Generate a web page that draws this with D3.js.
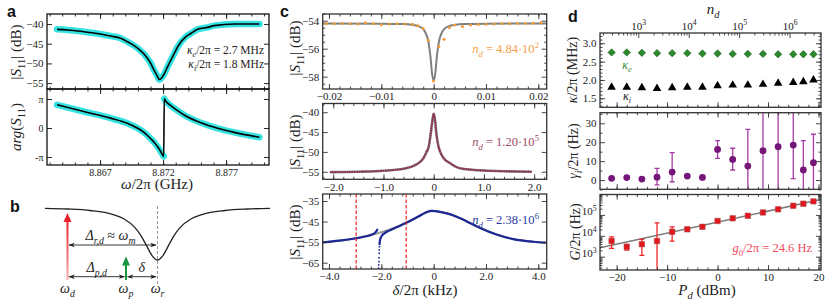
<!DOCTYPE html>
<html>
<head>
<meta charset="utf-8">
<script src="https://cdn.jsdelivr.net/npm/d3@7/dist/d3.min.js"></script>
<style>
  body { margin: 0; background: #fff; }
  svg text { font-family: "Liberation Serif", "DejaVu Serif", serif; fill: #222; }
  svg text.panel { font-family: "Liberation Sans", Arial, sans-serif; font-weight: bold; fill: #111; }
</style>
</head>
<body>
<script>
// ---------- panel a : reflection of the cavity ----------
const aMag = [[8.86359,-41.35],[8.8644,-41.5],[8.86571,-41.95],[8.86678,-42.4],[8.86784,-43.05],[8.86863,-43.6],
  [8.86917,-44.5],[8.8697,-45.5],[8.87022,-46.8],[8.87062,-48.1],[8.87102,-50.0],[8.87128,-51.7],[8.8715,-52.98],
  [8.87171,-54.1],[8.87208,-52.7],[8.87235,-50.9],[8.87261,-49.2],[8.87288,-47.5],[8.87315,-45.8],[8.87381,-43.2],
  [8.8742,-42.4],[8.87474,-41.35],[8.87553,-40.85],[8.87606,-40.4],[8.87765,-40.0],[8.87964,-40.0]];
// phase in units of pi, split at the wrap
const aPhaseLow = [[8.86359,0.80],[8.86571,0.57],[8.86784,0.34],[8.86917,0.16],[8.87022,-0.07],[8.87062,-0.2],
  [8.87102,-0.37],[8.8713,-0.5],[8.87155,-0.64],[8.8718,-0.8],[8.87205,-0.98]];
const aPhaseHigh = [[8.87209,1.01],[8.87222,0.92],[8.87261,0.77],[8.87315,0.6],[8.87367,0.45],[8.875,0.18],
  [8.87633,-0.01],[8.87765,-0.15],[8.87964,-0.32]];
const aFreqTicks = [8.867, 8.872, 8.877];
const aMagTicks = [-40, -45, -50, -55];
const aPhaseTicks = [-1, 0, 1];

// ---------- panel b : schematic ----------
const bCurve = [[0,0.025],[1,0.038],[2,0.066],[3,0.138],[3.5,0.221],[4,0.39],[4.25,0.532],[4.5,0.719],[4.75,0.911],
  [5,1],[5.25,0.911],[5.5,0.719],[5.75,0.532],[6,0.39],[6.5,0.221],[7,0.138],[8,0.066],[9,0.038],[10,0.025]];
const bTones = [{name: 'd', f: 1, amp: 1}, {name: 'p', f: 3.6, amp: 0.35}];
const bRes = 5;

// ---------- panel c : three drive powers ----------
const cTopDots = [[-0.0205,-54.22],[-0.019,-54.22],[-0.0175,-54.2],[-0.016,-54.22],[-0.0145,-54.24],[-0.013,-54.15],
  [-0.0115,-54.22],[-0.010,-54.28],[-0.0085,-54.24],[-0.007,-54.22],[-0.0055,-54.24],[-0.004,-54.25],[-0.003,-54.36],
  [-0.002,-54.55],[-0.001,-55.39],[0,-58.3],[0.001,-55.84],[0.002,-55.32],[0.003,-54.48],[0.004,-54.31],[0.0055,-54.41],
  [0.007,-54.3],[0.0085,-54.27],[0.010,-54.25],[0.0115,-54.24],[0.013,-54.22],[0.0145,-54.22],[0.016,-54.2],
  [0.0175,-54.2],[0.019,-54.18],[0.0205,-54.15]];
const cTopFit = [[-0.0212,-54.2],[-0.01,-54.21],[-0.006,-54.24],[-0.004,-54.3],[-0.003,-54.38],[-0.002,-54.6],
  [-0.0015,-54.9],[-0.001,-55.5],[-0.0006,-56.6],[-0.0003,-57.8],[0,-58.3],[0.0003,-57.8],[0.0006,-56.6],[0.001,-55.5],
  [0.0015,-54.9],[0.002,-54.6],[0.003,-54.38],[0.004,-54.3],[0.006,-54.24],[0.01,-54.21],[0.0216,-54.2]];
const cMidTrace = [[-2.05,-55.1],[-1.5,-55.0],[-1.0,-54.75],[-0.55,-54.1],[-0.4,-53.5],[-0.3,-52.8],[-0.2,-51.5],
  [-0.15,-50.2],[-0.1,-48.7],[-0.06,-45.5],[-0.03,-42.5],[0,-40.4],[0.03,-42.3],[0.05,-45],[0.09,-48.3],[0.13,-50],
  [0.2,-51.6],[0.32,-52.8],[0.52,-54.1],[1.0,-54.7],[1.5,-54.9],[1.95,-55.0]];
const cBotLeft = [[-4.24,-55.1],[-3.6,-54.3],[-2.96,-53.1],[-2.71,-52.5],[-2.33,-51.2],[-2.2,-49.9],[-2.14,-48.6]];
const cBotRight = [[-2.07,-56.4],[-2.05,-54.0],[-1.98,-51.9],[-1.88,-50.7],[-1.69,-49.4],[-1.37,-47.5],[-1.05,-45.6],
  [-0.8,-44.0],[-0.55,-42.3],[-0.35,-40.9],[-0.2,-40.1],[-0.08,-39.8],[0.05,-39.9],[0.25,-40.3],[0.5,-41.0],
  [0.74,-41.9],[1.0,-43.3],[1.25,-44.8],[1.76,-48.0],[2.4,-51.3],[3.04,-53.5],[3.8,-54.8],[4.32,-55.3]];
const cBotTail = [[-2.07,-57.2],[-2.08,-58.8],[-2.08,-60.4],[-2.09,-62.6],[-2.09,-64.5],[-2.1,-66.1],[-2.1,-67.7]];
const cBotFit = [[-4.24,-55.1],[-3.6,-54.3],[-2.96,-53.1],[-2.5,-51.8],[-2.0,-50.2],[-1.5,-48.0],[-1.05,-45.6],
  [-0.8,-44.0],[-0.55,-42.3],[-0.35,-40.9],[-0.2,-40.1],[-0.08,-39.8],[0.05,-39.9],[0.25,-40.3],[0.5,-41.0],
  [0.74,-41.9],[1.0,-43.3],[1.25,-44.8],[1.76,-48.0],[2.4,-51.3],[3.04,-53.5],[3.8,-54.8],[4.32,-55.3]];
const cBotMarks = [-2.96, -1.05];
const cPhotons = [['4.84', '2'], ['1.20', '5'], ['2.38', '6']];

// ---------- panel d : vs drive power ----------
const pd = [-21, -18, -15, -12, -9, -6, -3, 0, 3, 6, 9, 12, 15, 17, 19];
const kappaE = [2.75, 2.75, 2.74, 2.73, 2.73, 2.73, 2.72, 2.72, 2.71, 2.71, 2.71, 2.70, 2.70, 2.70, 2.70];
const kappaI = [1.80, 1.80, 1.79, 1.77, 1.79, 1.80, 1.80, 1.84, 1.86, 1.86, 1.88, 1.91, 1.93, 1.95, 2.00];
const gammaI = [0.9, 1.3, 0.5, 1.5, 4.2, 2.1, 1.4, 16.2, 10.9, 7.4, 15.5, 17.6, 18.5, 5.3, 9.2];
const gammaLo = [null, null, null, -2.6, -0.9, null, null, 11.5, 5.3, -8, -10, -10, 0.7, -8, -8];
const gammaHi = [null, null, null, 6.2, 14.5, null, null, 20.8, 16.8, 26.8, 40, 45, 40, 20.8, 24.2];
const gCoup = [5.6e3, 2.95e3, 3.98e3, 5.6e3, 1.55e4, 2.04e4, 2.69e4, 5.13e4, 6.9e4, 9.1e4, 1.32e5, 1.86e5, 2.75e5, 3.47e5, 4.47e5];
const gLo = [2.5e3, 2.04e3, 1.15e3, 1e2, 5.6e3, null, null, null, null, null, null, null, null, null, null];
const gHi = [8.9e3, 3.9e3, 6.8e3, 4.2e4, 2.7e4, null, null, null, null, null, null, null, null, null, null];
const gFit = [[-23.3, 2.69e3], [20.5, 5.5e5]];
const pdTicks = [-20, -10, 0, 10, 20];
const ndTicks = [1e3, 1e4, 1e5, 1e6];

// ---------- helpers ----------
const svg = d3.select('body').append('svg').attr('width', 830).attr('height', 303);
const defs = svg.append('defs');
let clipN = 0;

let rich = (t, parts, fs) => {
  let off = 0;
  parts.forEach(([s, st]) => {
    const sp = t.append('tspan').text(s);
    let sh = 0;
    if (st.indexOf('b') >= 0) { sh = 0.28 * fs; sp.style('font-size', (0.7 * fs) + 'px'); }
    if (st.indexOf('p') >= 0) { sh = -0.42 * fs; sp.style('font-size', (0.7 * fs) + 'px'); }
    if (st.indexOf('i') >= 0) sp.style('font-style', 'italic');
    sp.attr('dy', sh - off);
    off = sh;
  });
  return t;
};

let label = (x, y, parts, o = {}) => {
  const fs = o.size || 14;
  const t = svg.append('text')
    .attr('transform', `translate(${x},${y})` + (o.rot ? ' rotate(-90)' : ''))
    .attr('text-anchor', o.anchor || 'middle')
    .style('font-size', fs + 'px');
  if (o.color) t.style('fill', o.color);
  return rich(t, parts, fs);
};

let plain = (f) => (t, d) => t.text(f(d));
let pow10 = (t, d) => rich(t, [['10', ''], [String(Math.round(Math.log10(d))), 'p']], 11);

let clipped = (x, y) => {
  const id = 'clip' + (clipN++);
  defs.append('clipPath').attr('id', id).append('rect')
    .attr('x', x.range()[0]).attr('y', y.range()[1])
    .attr('width', x.range()[1] - x.range()[0]).attr('height', y.range()[0] - y.range()[1]);
  return svg.append('g').attr('clip-path', `url(#${id})`);
};

let drawFrame = (x, y, s) => {
  const g = svg.append('g');
  const [x0, x1] = x.range(), [y1, y0] = y.range();
  const col = s.color || '#333';
  const sides = [
    [d3.axisBottom, x, 0, y1, s.xMajor, s.xMinor, s.xFmt],
    [d3.axisTop, s.topScale || x, 0, y0, s.topMajor || s.xMajor, s.topMinor || s.xMinor, s.topFmt],
    [d3.axisLeft, y, x0, 0, s.yMajor, s.yMinor, s.yFmt],
    [d3.axisRight, y, x1, 0, s.yMajor, s.yMinor, null]
  ];
  sides.forEach(([ax, sc, dx, dy, maj, min, fmt]) => {
    const a = g.append('g').attr('transform', `translate(${dx},${dy})`);
    a.append('g').call(ax(sc).tickValues(min || []).tickSize(-2.5).tickFormat(''));
    const mj = a.append('g').call(ax(sc).tickValues(maj || []).tickSize(-5).tickPadding(3.5).tickFormat(''));
    a.selectAll('.domain').remove();
    a.selectAll('line').attr('stroke', col).attr('stroke-width', 0.9);
    if (fmt) {
      mj.selectAll('.tick text').each(function (d) {
        const t = d3.select(this).style('font-size', (s.fs || 11) + 'px');
        fmt(t, d);
      });
    }
  });
  g.append('rect').attr('x', x0).attr('y', y0).attr('width', x1 - x0).attr('height', y1 - y0)
    .attr('fill', 'none').attr('stroke', col).attr('stroke-width', s.sw || 1.3);
};

let lineOf = (x, y) => d3.line().x(d => x(d[0])).y(d => y(d[1])).curve(d3.curveMonotoneX);

// ---------- panel a ----------
const xA = d3.scaleLinear().domain([8.86279, 8.8804]).range([47, 269]);
const yAm = d3.scaleLinear().domain([-56.5, -37.45]).range([89, 14]);
const yAp = d3.scaleLinear().domain([-1.276, 1.345]).range([165, 89]);
const aMinor = d3.range(8863, 8881).map(v => v / 1000);

let ga = clipped(xA, yAm);
ga.append('path').datum(aMag).attr('d', lineOf(xA, yAm)).attr('fill', 'none')
  .attr('stroke', '#35e2e2').attr('stroke-width', 6.5).attr('stroke-linecap', 'round');
ga.append('path').datum(aMag).attr('d', lineOf(xA, yAm)).attr('fill', 'none')
  .attr('stroke', '#000').attr('stroke-width', 1.6);

ga = clipped(xA, yAp);
[aPhaseLow, aPhaseHigh].forEach(seg => {
  ga.append('path').datum(seg).attr('d', lineOf(xA, yAp)).attr('fill', 'none')
    .attr('stroke', '#35e2e2').attr('stroke-width', 6.5).attr('stroke-linecap', 'round');
});
ga.append('path').datum(aPhaseLow.concat(aPhaseHigh)).attr('d', lineOf(xA, yAp)).attr('fill', 'none')
  .attr('stroke', '#000').attr('stroke-width', 1.6);

drawFrame(xA, yAm, {color: '#111', xMajor: aFreqTicks, xMinor: aMinor, yMajor: aMagTicks, yFmt: plain(d3.format('d'))});
drawFrame(xA, yAp, {color: '#111', xMajor: aFreqTicks, xMinor: aMinor, yMajor: aPhaseTicks,
  xFmt: plain(d3.format('.3f')), yFmt: plain(d => d === 0 ? '0' : (d > 0 ? 'π' : '-π')), fs: 10});

label(21, 52, [['|', ''], ['S', 'i'], ['11', 'b'], ['| (dB)', '']], {rot: true, size: 15});
label(21, 127, [['arg', 'i'], ['(', ''], ['S', 'i'], ['11', 'b'], [')', '']], {rot: true, size: 15});
label(157, 189, [['ω', 'i'], ['/2π (GHz)', '']], {size: 15});
label(264, 54, [['κ', 'i'], ['e', 'ib'], ['/2π = 2.7 MHz', '']], {anchor: 'end', size: 11.5});
label(264, 67.5, [['κ', 'i'], ['i', 'ib'], ['/2π = 1.8 MHz', '']], {anchor: 'end', size: 11.5});

// ---------- panel b ----------
const xB = d3.scaleLinear().domain([0, 10]).range([45, 270]);
const yB = d3.scaleLinear().domain([0, 1]).range([207, 260]);
const yT = d3.scaleLinear().domain([0, 1]).range([280, 213]);
const bColors = {d: ['#e8202a', '#f8b0b0'], p: ['#14963c', '#14963c']};

svg.append('line').attr('x1', xB(bRes)).attr('x2', xB(bRes)).attr('y1', 206).attr('y2', 284)
  .attr('stroke', '#999').attr('stroke-width', 1).attr('stroke-dasharray', '3,2');
svg.append('path').datum(bCurve).attr('d', lineOf(xB, yB)).attr('fill', 'none')
  .attr('stroke', '#222').attr('stroke-width', 1.3);

bTones.forEach(t => {
  const gid = 'grad' + t.name;
  const gr = defs.append('linearGradient').attr('id', gid).attr('x1', 0).attr('x2', 0).attr('y1', 0).attr('y2', 1);
  gr.append('stop').attr('offset', '0%').attr('stop-color', bColors[t.name][0]);
  gr.append('stop').attr('offset', '100%').attr('stop-color', bColors[t.name][1]);
  const x = xB(t.f), top = yT(t.amp);
  svg.append('rect').attr('x', x - 1).attr('y', top + 7).attr('width', 2).attr('height', yT(0) - top - 7)
    .attr('fill', `url(#${gid})`);
  svg.append('path').attr('d', `M${x},${top} L${x - 4},${top + 9} L${x + 4},${top + 9} Z`)
    .attr('fill', bColors[t.name][0]);
});

defs.append('marker').attr('id', 'ah').attr('viewBox', '0 0 10 10').attr('refX', 9).attr('refY', 5)
  .attr('markerWidth', 7).attr('markerHeight', 7).attr('orient', 'auto-start-reverse')
  .append('path').attr('d', 'M0,1.5 L10,5 L0,8.5 L2.5,5 Z').attr('fill', '#222');

const bSpans = [[bTones[0].f, bRes, 245], [bTones[0].f, bTones[1].f, 276.7], [bTones[1].f, bRes, 276.7]];
bSpans.forEach(([f0, f1, y]) => {
  svg.append('line').attr('x1', xB(f0) + 1.5).attr('x2', xB(f1) - 1.5).attr('y1', y).attr('y2', y)
    .attr('stroke', '#222').attr('stroke-width', 0.9)
    .attr('marker-start', 'url(#ah)').attr('marker-end', 'url(#ah)');
});
label((xB(bTones[0].f) + xB(bRes)) / 2 - 2, 240, [['Δ', 'i'], ['r,d', 'ib'], [' ≈ ', ''], ['ω', 'i'], ['m', 'ib']], {size: 14});
label((xB(bTones[0].f) + xB(bTones[1].f)) / 2, 272, [['Δ', 'i'], ['p,d', 'ib']], {size: 14});
label((xB(bTones[1].f) + xB(bRes)) / 2, 272, [['δ', 'i']], {size: 14});
[[bTones[0].f, 'd'], [bTones[1].f, 'p'], [bRes, 'r']].forEach(([f, s]) => {
  label(xB(f), 293, [['ω', 'i'], [s, 'ib']], {size: 14});
});

// ---------- panel c ----------
const xCt = d3.scaleLinear().domain([-0.0212, 0.0216]).range([322.7, 546.7]);
const yCt = d3.scaleLinear().domain([-58.88, -53.52]).range([89, 14]);
const xCm = d3.scaleLinear().domain([-2.21, 2.25]).range([322.7, 546.7]);
const yCm = d3.scaleLinear().domain([-56.9, -37.8]).range([179.3, 103.5]);
const xCb = d3.scaleLinear().domain([-4.24, 4.32]).range([322.7, 546.7]);
const yCb = d3.scaleLinear().domain([-68.06, -31.6]).range([269, 194]);

let gc = clipped(xCt, yCt);
gc.append('path').datum(cTopFit).attr('d', lineOf(xCt, yCt)).attr('fill', 'none')
  .attr('stroke', '#808080').attr('stroke-width', 2);
gc.selectAll('circle').data(cTopDots).enter().append('circle')
  .attr('cx', d => xCt(d[0])).attr('cy', d => yCt(d[1])).attr('r', 1.5).attr('fill', '#f29a36');

gc = clipped(xCm, yCm);
gc.append('path').datum(cMidTrace).attr('d', lineOf(xCm, yCm)).attr('fill', 'none')
  .attr('stroke', '#8a8a8a').attr('stroke-width', 2.6);
gc.append('path').datum(cMidTrace).attr('d', lineOf(xCm, yCm)).attr('fill', 'none')
  .attr('stroke', '#8e2e50').attr('stroke-width', 2.2).attr('stroke-dasharray', '0 2.4')
  .attr('stroke-linecap', 'round');

gc = clipped(xCb, yCb);
gc.append('path').datum(cBotFit).attr('d', lineOf(xCb, yCb)).attr('fill', 'none')
  .attr('stroke', '#999').attr('stroke-width', 2);
[cBotLeft, cBotRight].forEach(seg => {
  gc.append('path').datum(seg).attr('d', lineOf(xCb, yCb)).attr('fill', 'none')
    .attr('stroke', '#1c2894').attr('stroke-width', 2.2);
});
gc.selectAll('circle').data(cBotTail).enter().append('circle')
  .attr('cx', d => xCb(d[0])).attr('cy', d => yCb(d[1])).attr('r', 0.9).attr('fill', '#1c2894');
gc.selectAll('line.mark').data(cBotMarks).enter().append('line').attr('class', 'mark')
  .attr('x1', d => xCb(d)).attr('x2', d => xCb(d)).attr('y1', 194).attr('y2', 269)
  .attr('stroke', '#f02020').attr('stroke-width', 1.2).attr('stroke-dasharray', '3.5,2');

const fmtC = (p) => plain(d => d === 0 ? '0' : d3.format(p)(d));
drawFrame(xCt, yCt, {xMajor: [-0.02, -0.01, 0, 0.01, 0.02], xMinor: d3.range(-20, 22, 2).map(v => v / 1000),
  yMajor: [-54, -56, -58], yMinor: [-53.5, -54.5, -55, -55.5, -56.5, -57, -57.5, -58.5],
  xFmt: fmtC('.2f'), yFmt: plain(d3.format('d'))});
drawFrame(xCm, yCm, {xMajor: [-2, -1, 0, 1, 2], xMinor: d3.range(-22, 24, 2).map(v => v / 10),
  yMajor: [-40, -45, -50, -55], xFmt: fmtC('.1f'), yFmt: plain(d3.format('d'))});
drawFrame(xCb, yCb, {xMajor: [-4, -2, 0, 2, 4], xMinor: d3.range(-40, 44, 4).map(v => v / 10),
  yMajor: [-35, -45, -55, -65], xFmt: fmtC('.1f'), yFmt: plain(d3.format('d'))});

[[yCt, 48], [yCm, 142], [yCb, 232]].forEach(([, cy]) => {
  label(300, cy, [['|', ''], ['S', 'i'], ['11', 'b'], ['| (dB)', '']], {rot: true, size: 15});
});
const cCols = ['#f5a04a', '#9c4a68', '#2a3aa0'];
[53, 146, 224].forEach((y, i) => {
  label(539, y, [['n', 'i'], ['d', 'ib'], [' = ' + cPhotons[i][0] + '·10', ''], [cPhotons[i][1], 'p']],
    {anchor: 'end', size: 12.5, color: cCols[i]});
});
label(425, 295, [['δ', 'i'], ['/2π (kHz)', '']], {size: 15});

// ---------- panel d ----------
const xD = d3.scaleLinear().domain([-23.3, 20.5]).range([600, 821]);
const nD = d3.scaleLog().domain([1.74e2, 4.2e6]).range([600, 821]);
const yDt = d3.scaleLinear().domain([1.255, 3.28]).range([107.3, 33]);
const yDm = d3.scaleLinear().domain([-4.9, 35.6]).range([189.3, 112.7]);
const yDb = d3.scaleLog().domain([229, 9.55e5]).range([270, 194.5]);
const pdMinor = d3.range(-22, 22, 2);

let gd = clipped(xD, yDt);
gd.selectAll('path.ke').data(kappaE).enter().append('path').attr('class', 'ke')
  .attr('d', d3.symbol(d3.symbolSquare, 27))
  .attr('transform', (d, i) => `translate(${xD(pd[i])},${yDt(d)}) rotate(45)`)
  .attr('fill', '#2b8a2b').attr('stroke', '#175a17').attr('stroke-width', 0.6);
gd.selectAll('path.ki').data(kappaI).enter().append('path').attr('class', 'ki')
  .attr('d', d3.symbol(d3.symbolTriangle, 32))
  .attr('transform', (d, i) => `translate(${xD(pd[i])},${yDt(d)})`)
  .attr('fill', '#000');

gd = clipped(xD, yDm);
pd.forEach((p, i) => {
  if (gammaLo[i] === null) return;
  const x = xD(p);
  gd.append('line').attr('x1', x).attr('x2', x).attr('y1', yDm(gammaLo[i])).attr('y2', yDm(gammaHi[i]))
    .attr('stroke', '#a53ca5').attr('stroke-width', 1.3);
  [gammaLo[i], gammaHi[i]].forEach(v => {
    gd.append('line').attr('x1', x - 2.5).attr('x2', x + 2.5).attr('y1', yDm(v)).attr('y2', yDm(v))
      .attr('stroke', '#a53ca5').attr('stroke-width', 1.3);
  });
});
gd.selectAll('circle').data(gammaI).enter().append('circle')
  .attr('cx', (d, i) => xD(pd[i])).attr('cy', d => yDm(d)).attr('r', 3.4).attr('fill', '#76157a');

gd = clipped(xD, yDb);
gd.append('path').datum(gFit).attr('d', d3.line().x(d => xD(d[0])).y(d => yDb(d[1])))
  .attr('stroke', '#7a7a7a').attr('stroke-width', 1.5).attr('fill', 'none');
pd.forEach((p, i) => {
  if (gLo[i] === null) return;
  const x = xD(p);
  gd.append('line').attr('x1', x).attr('x2', x).attr('y1', yDb(gLo[i])).attr('y2', yDb(gHi[i]))
    .attr('stroke', '#f02828').attr('stroke-width', 1.3);
  [gLo[i], gHi[i]].forEach(v => {
    gd.append('line').attr('x1', x - 2.5).attr('x2', x + 2.5).attr('y1', yDb(v)).attr('y2', yDb(v))
      .attr('stroke', '#f02828').attr('stroke-width', 1.3);
  });
});
gd.selectAll('path.g').data(gCoup).enter().append('path').attr('class', 'g')
  .attr('d', d3.symbol(d3.symbolSquare, 30))
  .attr('transform', (d, i) => `translate(${xD(pd[i])},${yDb(d)})`)
  .attr('fill', '#e0161c').attr('stroke', '#b05050').attr('stroke-width', 0.6);

const logMinor = (sc) => sc.ticks().filter(v => Math.abs(Math.log10(v) - Math.round(Math.log10(v))) > 1e-6);
drawFrame(xD, yDt, {xMajor: pdTicks, xMinor: pdMinor, topScale: nD, topMajor: ndTicks, topMinor: logMinor(nD),
  topFmt: pow10, yMajor: [1.5, 2.0, 2.5, 3.0], yMinor: d3.range(13, 33).map(v => v / 10),
  yFmt: plain(d3.format('.1f'))});
drawFrame(xD, yDm, {xMajor: pdTicks, xMinor: pdMinor, yMajor: [0, 10, 20, 30], yMinor: [-5, 5, 15, 25, 35],
  yFmt: plain(d3.format('d'))});
drawFrame(xD, yDb, {xMajor: pdTicks, xMinor: pdMinor, yMajor: [1e3, 1e4, 1e5], yMinor: logMinor(yDb),
  xFmt: plain(d3.format('d')), yFmt: pow10});

label(713, 14, [['n', 'i'], ['d', 'ib']], {size: 15});
label(577, 70, [['κ', 'i'], ['/2π (MHz)', '']], {rot: true, size: 14});
label(578, 151, [['γ', 'i'], ['i', 'ib'], ['/2π (Hz)', '']], {rot: true, size: 14});
label(580, 232, [['G', 'i'], ['/2π (Hz)', '']], {rot: true, size: 14});
label(707, 295, [['P', 'i'], ['d', 'ib'], [' (dBm)', '']], {size: 15});
label(627, 69, [['κ', 'i'], ['e', 'ib']], {size: 12, color: '#2b8a2b'});
label(627, 100, [['κ', 'i'], ['i', 'ib']], {size: 12, color: '#222'});
label(812, 252, [['g', 'i'], ['0', 'b'], ['/2π = 24.6 Hz', '']], {anchor: 'end', size: 12.5, color: '#f04a58'});

// ---------- panel letters ----------
[['a', 7, 17], ['b', 10, 212], ['c', 280, 17], ['d', 568, 22]].forEach(([s, x, y]) => {
  svg.append('text').attr('class', 'panel').attr('x', x).attr('y', y).style('font-size', '16px').text(s);
});
</script>
</body>
</html>
